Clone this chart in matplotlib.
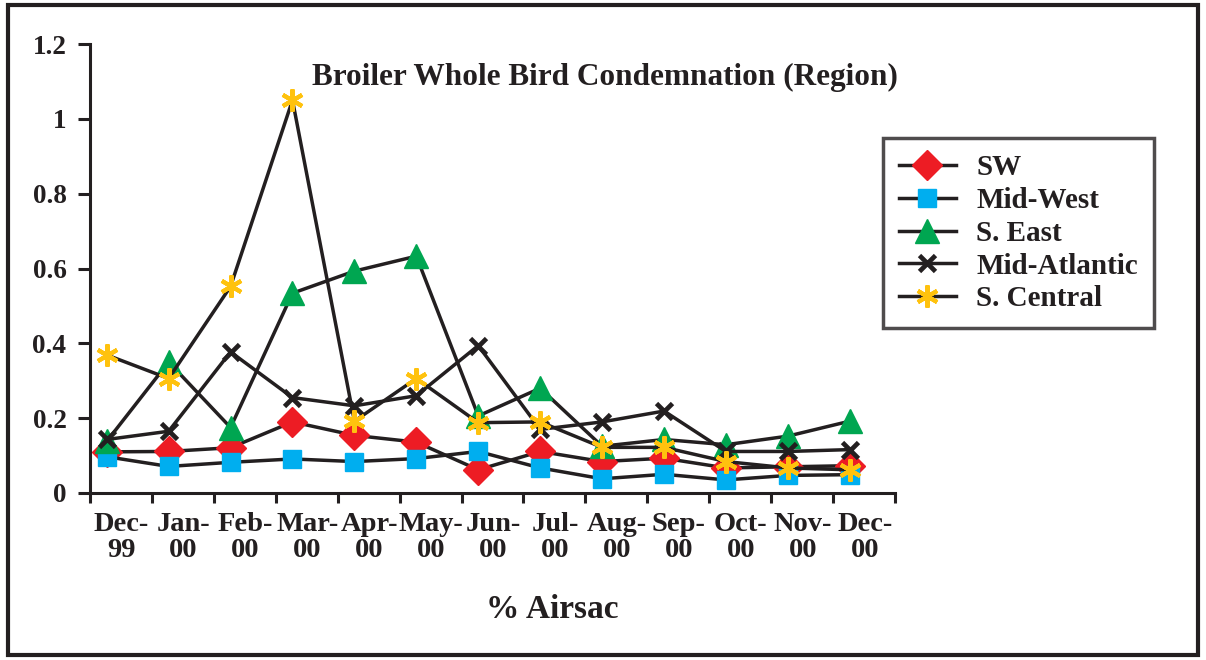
import matplotlib
matplotlib.use('Agg')
import matplotlib.pyplot as plt
from matplotlib.patches import Rectangle
import numpy as np

months = ['Dec-\n99', 'Jan-\n00', 'Feb-\n00', 'Mar-\n00', 'Apr-\n00', 'May-\n00', 'Jun-\n00',
          'Jul-\n00', 'Aug-\n00', 'Sep-\n00', 'Oct-\n00', 'Nov-\n00', 'Dec-\n00']

sw = [0.11, 0.111, 0.121, 0.19, 0.154, 0.136, 0.062, 0.111, 0.084, 0.093, 0.067, 0.07, 0.073]
mid_west = [0.097, 0.071, 0.082, 0.091, 0.084, 0.092, 0.111, 0.067, 0.038, 0.05, 0.035, 0.047, 0.049]
s_east = [0.138, 0.35, 0.175, 0.534, 0.593, 0.633, 0.206, 0.28, 0.125, 0.143, 0.129, 0.152, 0.192]
mid_atlantic = [0.143, 0.165, 0.377, 0.255, 0.233, 0.26, 0.394, 0.17, 0.19, 0.219, 0.111, 0.111, 0.116]
s_central = [0.369, 0.306, 0.552, 1.05, 0.192, 0.306, 0.188, 0.19, 0.122, 0.122, 0.084, 0.067, 0.062]

yticks = [0, 0.2, 0.4, 0.6, 0.8, 1, 1.2]
ytick_labels = ['0', '0.2', '0.4', '0.6', '0.8', '1', '1.2']

ink = '#231F20'
serif = ['Liberation Serif', 'DejaVu Serif']
plt.rcParams['font.family'] = serif
plt.rcParams['font.weight'] = 'bold'

fig = plt.figure(figsize=(12.06, 6.6), dpi=100)
ax = fig.add_axes([90 / 1206, 1 - 493 / 660, 805 / 1206, (493 - 44) / 660])

x = np.arange(len(months))
series = [
    ('SW', sw, dict(marker='D', ms=15, mfc='#ED1C24', mec='#ED1C24')),
    ('Mid-West', mid_west, dict(marker='s', ms=13, mfc='#00AEEF', mec='#00AEEF')),
    ('S. East', s_east, dict(marker='^', ms=17, mfc='#00A651', mec='#00A651')),
    ('Mid-Atlantic', mid_atlantic, dict(marker='x', ms=12, mew=3.4, mec=ink)),
    ('S. Central', s_central, dict(marker=(6, 2, 0), ms=16, mew=3, mec='#FFC20E')),
]
for name, vals, style in series:
    ax.plot(x, vals, color=ink, lw=2.5, label=name, **style)

left = -0.27
ax.set_xlim(left, left + 13)
ax.set_ylim(0, 1.2)

ax.set_xticks(x + 0.24)
ax.set_xticklabels(months, fontsize=20.5, fontweight='bold', color=ink, linespacing=1.05)
ax.set_xticks(left + np.arange(14), minor=True)
ax.tick_params(axis='x', which='major', length=0, pad=14)
ax.tick_params(axis='x', which='minor', length=7, width=2.2, color=ink, direction='out')

ax.set_yticks(yticks)
ax.set_yticklabels(ytick_labels, fontsize=19.5, fontweight='bold', color=ink)
ax.tick_params(axis='y', length=9, width=2.2, color=ink, pad=8)

for side in ['top', 'right']:
    ax.spines[side].set_visible(False)
for side in ['left', 'bottom']:
    ax.spines[side].set_linewidth(2.2)
    ax.spines[side].set_color(ink)

ax.text(0.64, 0.925, 'Broiler Whole Bird Condemnation (Region)', transform=ax.transAxes,
        ha='center', va='center', fontsize=22.5, fontweight='bold', color=ink)

fig.text(552 / 1206, 1 - 610 / 660, '% Airsac', ha='center', va='center',
         fontsize=24, fontweight='bold', color=ink)

leg = ax.legend(loc='upper left', bbox_to_anchor=(883 / 1206, 1 - 138 / 660),
                bbox_transform=fig.transFigure, frameon=True, fancybox=False,
                prop={'family': serif, 'weight': 'bold', 'size': 21},
                handlelength=1.95, handletextpad=0.7, labelspacing=0.2,
                borderpad=0.55, borderaxespad=0)
leg.get_frame().set_edgecolor(ink)
leg.get_frame().set_linewidth(2.5)
for t in leg.get_texts():
    t.set_color(ink)

fig.patches.append(Rectangle((8 / 1206, 5 / 660), 1190 / 1206, 650 / 660,
                             transform=fig.transFigure, fill=False, lw=3, edgecolor=ink))

fig.savefig('out.png', dpi=100)
